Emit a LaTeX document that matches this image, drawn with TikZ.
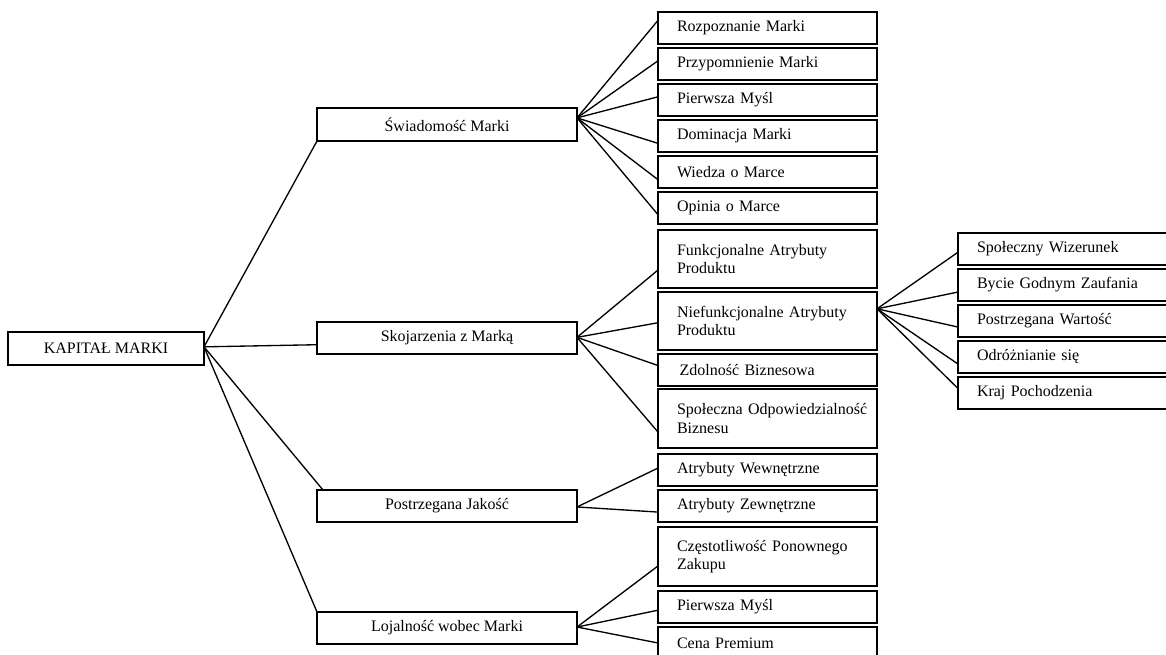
\documentclass[tikz,border=0pt]{standalone}
\usepackage{fontspec}
\setmainfont{Liberation Serif}
\usetikzlibrary{calc}

\tikzset{
  box/.style={draw, line width=1.2pt, outer sep=0pt, inner sep=2pt,
    anchor=north west, minimum height=24pt,
    font=\fontsize{12}{13.8}\selectfont},
  rootbox/.style={box, minimum width=147pt, minimum height=24.75pt},
  dimbox/.style={box, minimum width=195pt},
  leafbox/.style={box, minimum width=164.25pt, text width=160.25pt,
    align=left, execute at begin node={\leftskip=12.25pt}},
  tallbox/.style={leafbox, minimum height=43.5pt},
  link/.style={line width=1pt}
}

\begin{document}
\begin{tikzpicture}[x=0.75pt, y=-0.75pt]
  \clip (0,0) rectangle (1166,655);
  \fill[white] (0,0) rectangle (1166,655);

  % root
  \node[rootbox] (kap) at (8,332) {KAPITAŁ MARKI};

  % first level
  \node[dimbox, minimum height=24.75pt] (swiad) at (317,108) {Świadomość Marki};
  \node[dimbox] (skoj)   at (317,322) {Skojarzenia z Marką};
  \node[dimbox] (postrz) at (317,490) {Postrzegana Jakość};
  \node[dimbox] (loja)   at (317,612) {Lojalność wobec Marki};

  % awareness
  \node[leafbox] (rozp) at (658,12)  {Rozpoznanie Marki};
  \node[leafbox] (przy) at (658,48)  {Przypomnienie Marki};
  \node[leafbox] (pier) at (658,84)  {Pierwsza Myśl};
  \node[leafbox] (domi) at (658,120) {Dominacja Marki};
  \node[leafbox] (wied) at (658,156) {Wiedza o Marce};
  \node[leafbox] (opin) at (658,192) {Opinia o Marce};

  % associations
  \node[tallbox] (funk) at (658,230) {Funkcjonalne Atrybuty\\Produktu};
  \node[tallbox] (nief) at (658,292) {Niefunkcjonalne Atrybuty\\Produktu};
  \node[leafbox] (zdol) at (658,354) {\hspace*{2pt}Zdolność Biznesowa};
  \node[tallbox, minimum height=44.25pt] (spol) at (658,389) {Społeczna Odpowiedzialność\\Biznesu};

  % perceived quality
  \node[leafbox] (wewn) at (658,454) {Atrybuty Wewnętrzne};
  \node[leafbox] (zewn) at (658,490) {Atrybuty Zewnętrzne};

  % loyalty
  \node[tallbox, minimum height=44.25pt] (czes) at (658,527) {Częstotliwość Ponownego\\Zakupu};
  \node[leafbox] (pier2) at (658,591) {Pierwsza Myśl};
  \node[leafbox] (cena)  at (658,627) {Cena Premium};

  % non-functional attributes
  \node[leafbox] (spw)   at (958,233) {Społeczny Wizerunek};
  \node[leafbox] (byc)   at (958,269) {Bycie Godnym Zaufania};
  \node[leafbox] (pwart) at (958,305) {Postrzegana Wartość};
  \node[leafbox] (odr)   at (958,341) {Odróżnianie się};
  \node[leafbox] (kraj)  at (958,377) {Kraj Pochodzenia};

  % connectors: source / point on its right side / target / point on its left side
  \foreach \src/\fs/\dst/\fd in {
      kap/0.45/swiad/1.0, kap/0.45/skoj/0.71, kap/0.45/loja/0.0,
      swiad/0.3/rozp/0.26, swiad/0.3/przy/0.4, swiad/0.3/pier/0.4,
      swiad/0.3/domi/0.73, swiad/0.3/wied/0.74, swiad/0.3/opin/0.71,
      skoj/0.48/funk/0.69, skoj/0.48/nief/0.53, skoj/0.48/zdol/0.36,
      skoj/0.48/spol/0.73,
      postrz/0.53/wewn/0.44, postrz/0.53/zewn/0.69,
      loja/0.47/czes/0.66, loja/0.47/pier2/0.6, loja/0.47/cena/0.5,
      nief/0.29/spw/0.6, nief/0.29/byc/0.72, nief/0.29/pwart/0.69,
      nief/0.29/odr/0.72, nief/0.29/kraj/0.36}
    \draw[link] ($(\src.north east)!\fs!(\src.south east)$)
             -- ($(\dst.north west)!\fd!(\dst.south west)$);

  \draw[link] ($(kap.north east)!0.45!(kap.south east)$)
           -- ($(postrz.north west)!0.023!(postrz.north east)$);
\end{tikzpicture}
\end{document}
